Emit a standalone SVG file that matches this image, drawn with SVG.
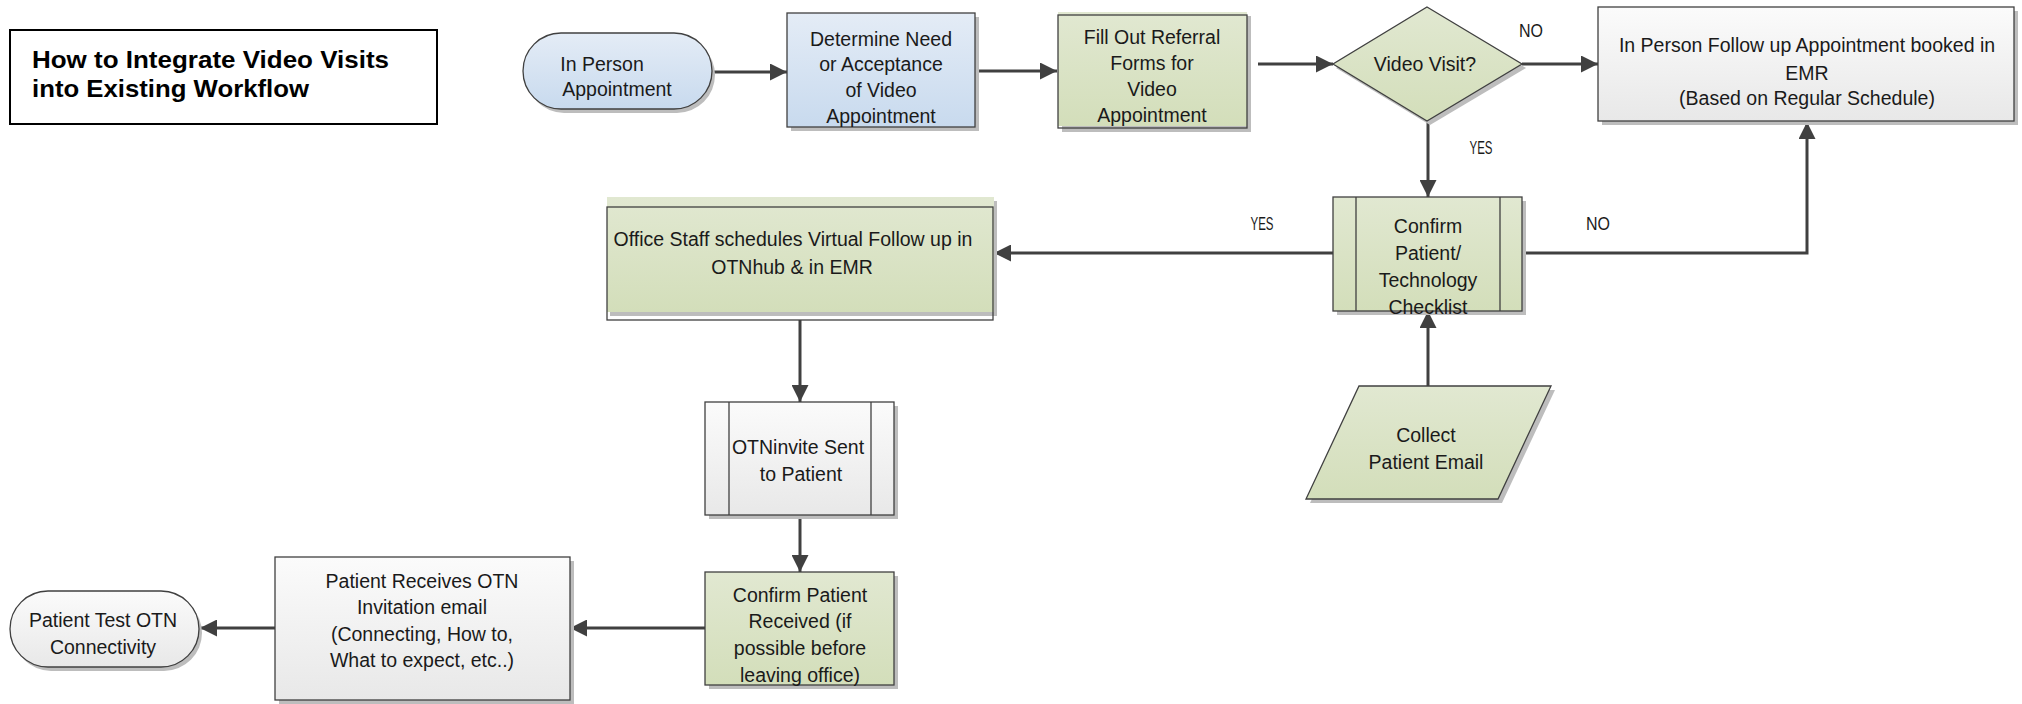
<svg xmlns="http://www.w3.org/2000/svg" width="2022" height="704" viewBox="0 0 2022 704">
<defs>
<linearGradient id="gBlue" x1="0" y1="0" x2="0" y2="1"><stop offset="0" stop-color="#e4ecf6"/><stop offset="1" stop-color="#c8daee"/></linearGradient>
<linearGradient id="gGreen" x1="0" y1="0" x2="0" y2="1"><stop offset="0" stop-color="#e1e8d1"/><stop offset="1" stop-color="#d3deba"/></linearGradient>
<linearGradient id="gGray" x1="0" y1="0" x2="0" y2="1"><stop offset="0" stop-color="#fbfbfb"/><stop offset="1" stop-color="#e8e8e8"/></linearGradient>
<marker id="arr" markerUnits="userSpaceOnUse" viewBox="0 0 17 17" markerWidth="17" markerHeight="17" refX="17" refY="8.5" orient="auto">
<path d="M0,0 L17,8.5 L0,17 z" fill="#404040"/>
</marker>
</defs>
<style>
text{font-family:"Liberation Sans",Arial,sans-serif;font-size:19.5px;fill:#1a1a1a;text-anchor:middle}
.title{font-weight:bold;font-size:24px;text-anchor:start;fill:#000}
.lbl{font-size:18px}
.sh{fill:#bdbdbd}
.nd{stroke:#404040;stroke-width:1.3}
.blue{fill:url(#gBlue)}
.green{fill:url(#gGreen)}
.gray{fill:url(#gGray)}
.edge{fill:none;stroke:#404040;stroke-width:3;marker-end:url(#arr)}
</style>
<rect width="2022" height="704" fill="#ffffff"/>

<g id="title">
<rect x="10" y="30" width="427" height="94" fill="#fff" stroke="#000" stroke-width="2"/>
<text class="title" x="32" y="68" textLength="357" lengthAdjust="spacingAndGlyphs">How to Integrate Video Visits</text>
<text class="title" x="32" y="97" textLength="277" lengthAdjust="spacingAndGlyphs">into Existing Workflow</text>
</g>

<g id="connectors">
<path class="edge" d="M712,72 L787,72"/>
<path class="edge" d="M976,71 L1057,71"/>
<path class="edge" d="M1258,64 L1333,64"/>
<path class="edge" d="M1522,64 L1598,64"/>
<path class="edge" d="M1428,121 L1428,197"/>
<path class="edge" d="M1522,253 L1807,253 L1807,122"/>
<path class="edge" d="M1333,253 L994,253"/>
<path class="edge" d="M1428,386 L1428,311"/>
<path class="edge" d="M800,320 L800,402"/>
<path class="edge" d="M800,515 L800,572"/>
<path class="edge" d="M705,628 L570,628"/>
<path class="edge" d="M275,628 L200,628"/>
<text class="lbl" x="1531" y="37" textLength="24" lengthAdjust="spacingAndGlyphs">NO</text>
<text class="lbl" x="1481" y="154" textLength="23" lengthAdjust="spacingAndGlyphs">YES</text>
<text class="lbl" x="1598" y="230" textLength="24" lengthAdjust="spacingAndGlyphs">NO</text>
<text class="lbl" x="1262" y="230" textLength="23" lengthAdjust="spacingAndGlyphs">YES</text>
</g>

<g id="inPerson">
<rect class="sh" x="526" y="37" width="189" height="76" rx="38"/>
<rect class="nd blue" x="523" y="33" width="189" height="76" rx="38"/>
<text x="602" y="71">In Person</text>
<text x="617" y="96">Appointment</text>
</g>

<g id="determine">
<rect class="sh" x="791" y="17" width="188" height="114"/>
<rect class="nd blue" x="787" y="13" width="188" height="114"/>
<text x="881" y="46">Determine Need</text>
<text x="881" y="71">or Acceptance</text>
<text x="881" y="97">of Video</text>
<text x="881" y="123">Appointment</text>
</g>

<g id="fillOut">
<rect class="sh" x="1062" y="16" width="189" height="116"/>
<rect class="green" x="1058" y="12" width="189" height="114"/>
<rect class="nd" fill="none" x="1058" y="15" width="189" height="113"/>
<text x="1152" y="44">Fill Out Referral</text>
<text x="1152" y="70">Forms for</text>
<text x="1152" y="96">Video</text>
<text x="1152" y="122">Appointment</text>
</g>

<g id="videoVisit">
<polygon class="sh" points="1430,11 1526,68 1430,125 1336,68"/>
<polygon class="nd green" points="1427,7 1522,64 1427,121 1333,64"/>
<text x="1425" y="71">Video Visit?</text>
</g>

<g id="inPersonFollowUp">
<rect class="sh" x="1602" y="11" width="416" height="114"/>
<rect class="nd gray" x="1598" y="7" width="416" height="114"/>
<text x="1807" y="52">In Person Follow up Appointment booked in</text>
<text x="1807" y="80">EMR</text>
<text x="1807" y="105">(Based on Regular Schedule)</text>
</g>

<g id="confirmChecklist">
<rect class="sh" x="1337" y="201" width="189" height="114"/>
<rect class="nd green" x="1333" y="197" width="189" height="114"/>
<line class="nd" x1="1356" y1="197" x2="1356" y2="311"/>
<line class="nd" x1="1500" y1="197" x2="1500" y2="311"/>
<text x="1428" y="233">Confirm</text>
<text x="1428" y="260">Patient/</text>
<text x="1428" y="287">Technology</text>
<text x="1428" y="314">Checklist</text>
</g>

<g id="collectEmail">
<polygon class="sh" points="1363,390 1555,390 1502,503 1310,503"/>
<polygon class="nd green" points="1359,386 1551,386 1498,499 1306,499"/>
<text x="1426" y="442">Collect</text>
<text x="1426" y="469">Patient Email</text>
</g>

<g id="officeStaff">
<rect class="sh" x="610" y="201" width="387" height="115"/>
<rect class="green" x="607" y="197" width="387" height="115"/>
<rect class="nd" fill="none" x="607" y="207" width="386" height="113"/>
<text x="793" y="246">Office Staff schedules Virtual Follow up in</text>
<text x="792" y="274">OTNhub &amp; in EMR</text>
</g>

<g id="otnInvite">
<rect class="sh" x="709" y="406" width="189" height="113"/>
<rect class="nd gray" x="705" y="402" width="189" height="113"/>
<line class="nd" x1="729" y1="402" x2="729" y2="515"/>
<line class="nd" x1="871" y1="402" x2="871" y2="515"/>
<text x="798" y="454">OTNinvite Sent</text>
<text x="801" y="481">to Patient</text>
</g>

<g id="confirmReceived">
<rect class="sh" x="709" y="576" width="189" height="113"/>
<rect class="nd green" x="705" y="572" width="189" height="113"/>
<text x="800" y="602">Confirm Patient</text>
<text x="800" y="628">Received (if</text>
<text x="800" y="655">possible before</text>
<text x="800" y="682">leaving office)</text>
</g>

<g id="patientReceives">
<rect class="sh" x="279" y="561" width="295" height="143"/>
<rect class="nd gray" x="275" y="557" width="295" height="143"/>
<text x="422" y="588">Patient Receives OTN</text>
<text x="422" y="614">Invitation email</text>
<text x="422" y="641">(Connecting, How to,</text>
<text x="422" y="667">What to expect, etc..)</text>
</g>

<g id="patientTest">
<rect class="sh" x="13" y="595" width="189" height="76" rx="38"/>
<rect class="nd gray" x="10" y="591" width="189" height="76" rx="38"/>
<text x="103" y="627">Patient Test OTN</text>
<text x="103" y="654">Connectivity</text>
</g>
</svg>
